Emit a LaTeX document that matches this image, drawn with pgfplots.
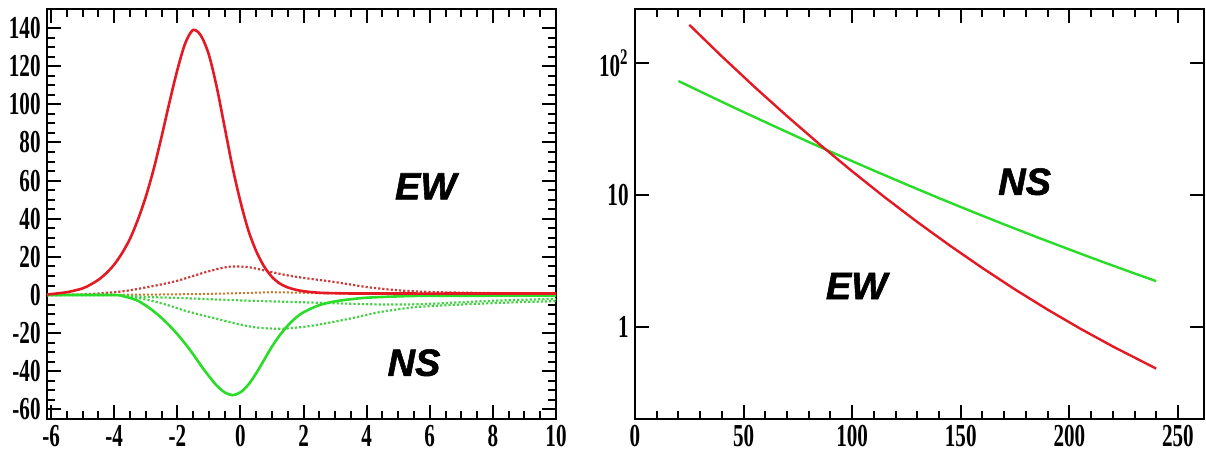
\documentclass[border=0pt]{standalone}
\usepackage{fontspec}
\setmainfont{Liberation Serif}
\newfontfamily\tickfont{Liberation Serif}[FakeStretch=0.66]
\newfontfamily\labfont{Liberation Sans}[FakeBold=1.5]
\usepackage{pgfplots}
\pgfplotsset{compat=1.18}
\definecolor{cred}{RGB}{228,25,35}
\definecolor{cgreen}{RGB}{40,220,40}
\definecolor{dred}{RGB}{205,60,60}
\definecolor{dgreen}{RGB}{70,210,70}
\definecolor{dorange}{RGB}{205,120,40}
\pgfplotsset{myaxis/.style={
  scale only axis,
  axis line style={line width=1.4pt},
  every tick/.style={black, line width=1pt},
  major tick length=7pt, minor tick length=4pt,
  tick align=inside, tick pos=both,
  xticklabel pos=lower, yticklabel pos=left,
  ticklabel style={font=\tickfont\bfseries\fontsize{16}{16}\selectfont},
  xticklabel style={inner sep=3pt},
  yticklabel style={inner sep=3pt},
  /pgf/number format/assume math mode=true,
  clip=true,
}}
\newcommand\lab{\labfont\bfseries\itshape\fontsize{19}{19}\selectfont}
\begin{document}
\begin{tikzpicture}
\begin{axis}[myaxis,
  width=254.5pt, height=205pt,
  xmin=-6.13, xmax=10, ymin=-65, ymax=150,
  xtick={-6,-4,...,10}, ytick={-60,-40,...,140},
  minor x tick num=3, minor y tick num=3,
]
\addplot[dorange, line width=1pt, densely dotted] coordinates {
(-6.13,0) (-3,0.2) (-1,0.6) (0,1) (1,1.5) (2,1.2) (3,0.8) (5,0.5) (10,0.4)};
\addplot[dred, line width=1.1pt, densely dotted, smooth] coordinates {
(-6.13,0) (-5,0.3) (-4,1.5) (-3.5,2.5) (-3,4) (-2.5,5.6) (-2,7.5) (-1.5,10) (-1,12.5) (-0.5,14.5) (-0.2,15) (0.3,14.5) (1,12) (1.5,10.3) (2,9) (3,6.8) (4,4.2) (5,2.5) (6,1.6) (8,1) (10,0.8)};
\addplot[dgreen, line width=1.1pt, densely dotted, smooth] coordinates {
(-6.13,0) (-4,0) (-3.5,-0.8) (-2.86,-2.8) (-2.3,-5.3) (-1.8,-8) (-1.25,-10.4) (-0.74,-12.5) (0,-15.5) (0.5,-17) (1,-17.6) (1.5,-17.5) (2.3,-16) (3.4,-12.6) (4.4,-9) (5.5,-6.4) (6.6,-5.3) (7.6,-4.5) (8.7,-3.8) (10,-3.2)};
\addplot[dgreen, line width=1.1pt, densely dotted, smooth] coordinates {
(-6.13,0) (-4,0) (-3,-1) (-2,-1.5) (0,-2.8) (2,-3.8) (4,-4.8) (5,-5) (6,-4.6) (8,-3) (10,-2)};
\addplot[cgreen, line width=1.3pt, smooth] coordinates {
(-6.13,0) (-4,0) (-3.75,-0.5) (-3.5,-1.5) (-3.25,-3) (-3,-5.5) (-2.75,-8.5) (-2.5,-12) (-2.25,-16) (-2,-20.5) (-1.75,-25.5) (-1.5,-31) (-1.25,-37) (-1,-42.5) (-0.75,-47.5) (-0.5,-51) (-0.25,-52.5) (0,-51) (0.25,-47) (0.5,-41) (0.75,-34) (1,-27) (1.25,-21) (1.5,-16) (1.75,-12) (2,-9) (2.5,-5.3) (3,-3.3) (3.5,-2.2) (4,-1.4) (5,-0.7) (6,-0.4) (10,-0.3)};
\addplot[cred, line width=1.3pt, smooth] coordinates {
(-6.13,0.3) (-5.5,1.5) (-5,3.5) (-4.75,5.5) (-4.5,8) (-4.25,11.5) (-4,16) (-3.75,22) (-3.5,29.5) (-3.25,39.5) (-3,51.5) (-2.75,66) (-2.5,83) (-2.25,101) (-2,118) (-1.75,132) (-1.5,139) (-1.25,136) (-1,126) (-0.75,109) (-0.5,88) (-0.25,67) (0,49) (0.25,34) (0.5,23) (0.75,15) (1,9.5) (1.25,6) (1.5,4) (1.75,2.8) (2,2) (2.5,1.2) (3,1) (4,0.8) (10,0.8)};
\node[font=\lab] at (axis cs:5.87,57) {EW};
\node[font=\lab] at (axis cs:5.5,-35.5) {NS};
\end{axis}
\begin{axis}[myaxis, at={(294pt,0pt)},
  width=284.5pt, height=205pt,
  xmin=0, xmax=262, ymin=0.2, ymax=257, ymode=log,
  xtick={0,50,...,250}, minor x tick num=4,
  ytick={1,10,100}, yticklabels={1,10,{10\textsuperscript{2}}},
  log basis y=10,
]
\addplot[cgreen, line width=1.2pt] coordinates {
(20,73.1) (35,55.6) (50,42.5) (65,32.7) (80,25.2) (95,19.6) (110,15.3) (125,12.0) (140,9.46) (155,7.50) (170,5.98) (185,4.79) (200,3.86) (215,3.12) (230,2.54) (240,2.22)};
\addplot[cred, line width=1.2pt] coordinates {
(25,195) (40,112.3) (55,66.0) (70,39.6) (85,24.2) (100,15.1) (115,9.6) (130,6.23) (145,4.13) (160,2.79) (175,1.92) (190,1.35) (205,0.969) (220,0.71) (240,0.482)};
\node[font=\lab] at (axis cs:179.4,12.6) {NS};
\node[font=\lab] at (axis cs:102,2.04) {EW};
\end{axis}
\pgfresetboundingbox
\useasboundingbox (-23.5pt,-16.5pt) rectangle (579.5pt,209.5pt);
\end{tikzpicture}
\end{document}
